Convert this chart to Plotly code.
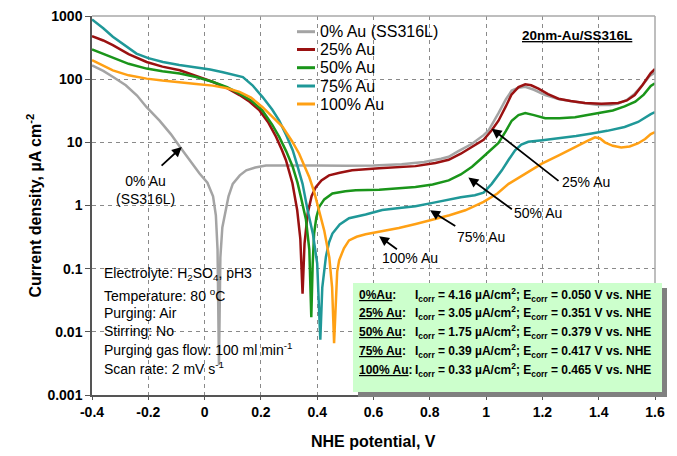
import plotly.graph_objects as go

# ---------------- data ----------------
names = ["0% Au (SS316L)", "25% Au", "50% Au", "75% Au", "100% Au"]
colors = ["#a4a4a4", "#9a1111", "#1a951a", "#1f9898", "#ffa014"]

v_0 = [-0.4, -0.36, -0.325, -0.28, -0.24, -0.206, -0.16, -0.12, -0.088, -0.05, -0.018,
       0.01, 0.03, 0.04, 0.046, 0.051, 0.056, 0.063, 0.071, 0.085, 0.1, 0.125, 0.148, 0.18,
       0.218, 0.3, 0.4, 0.5, 0.6, 0.7, 0.78, 0.84, 0.867, 0.9, 0.95, 0.991, 1.009, 1.044,
       1.07, 1.091, 1.115, 1.139, 1.17, 1.21, 1.26, 1.316, 1.36, 1.398, 1.44, 1.469,
       1.5, 1.528, 1.555, 1.581, 1.6]
i_0 = [165, 135, 108, 80, 55, 36, 22, 13.5, 8.5, 5, 3.2,
       2.3, 1.4, 0.7, 0.2, 0.003, 0.15, 0.45, 0.66, 1.4, 2.2, 3.0, 3.6, 4.0,
       4.3, 4.35, 4.3, 4.25, 4.3, 4.5, 4.9, 5.5, 5.9, 7.2, 9.5, 13, 15.5, 29,
       48, 66, 73, 76, 68, 56, 48, 44, 41, 39, 39, 41,
       47, 59, 80, 112, 128]

v_25 = [-0.4, -0.36, -0.326, -0.27, -0.206, -0.15, -0.088, -0.03, 0.028, 0.08, 0.124, 0.16,
        0.195, 0.225, 0.254, 0.275, 0.289, 0.312, 0.329, 0.34, 0.348, 0.355, 0.366, 0.38,
        0.395, 0.415, 0.442, 0.48, 0.524, 0.62, 0.749, 0.82, 0.867, 0.91, 0.949, 0.991,
        1.02, 1.044, 1.07, 1.09, 1.115, 1.139, 1.16, 1.186, 1.22, 1.257, 1.3, 1.351, 1.41,
        1.469, 1.5, 1.528, 1.555, 1.585, 1.6]
i_25 = [480, 410, 345, 250, 187, 158, 138, 112, 91, 72, 56, 44,
        32, 21, 12.2, 7.5, 5.2, 2.25, 0.84, 0.3, 0.04, 0.25, 0.74, 1.4,
        1.95, 2.5, 3.0, 3.3, 3.6, 3.9, 4.2, 4.7, 5.3, 6.6, 8.5, 11,
        15.5, 22, 37, 57, 75, 83, 80, 71, 58, 49, 45, 42, 41,
        42, 46, 56, 80, 125, 145]

v_50 = [-0.4, -0.36, -0.326, -0.27, -0.206, -0.15, -0.088, -0.03, 0.028, 0.08, 0.124, 0.165,
        0.205, 0.24, 0.265, 0.29, 0.313, 0.33, 0.342, 0.36, 0.372, 0.379, 0.384, 0.389,
        0.397, 0.407, 0.425, 0.454, 0.5, 0.537, 0.62, 0.7, 0.749, 0.81, 0.867, 0.91, 0.95,
        0.98, 1.009, 1.044, 1.07, 1.091, 1.115, 1.139, 1.17, 1.21, 1.26, 1.316, 1.36, 1.398,
        1.45, 1.492, 1.53, 1.56, 1.585, 1.6]
i_50 = [295, 250, 215, 175, 147, 133, 123, 108, 91, 75, 59, 46,
        32, 19, 12.2, 7.2, 4.1, 2.3, 1.37, 0.6, 0.2, 0.017, 0.12, 0.36,
        0.65, 0.95, 1.25, 1.55, 1.68, 1.74, 1.78, 1.88, 1.96, 2.15, 2.5, 3.1, 4.1,
        5.4, 7.0, 9.8, 15, 22, 27, 29, 27, 24, 24, 25, 27, 29,
        32, 37, 44, 57, 78, 86]

v_75 = [-0.4, -0.36, -0.326, -0.28, -0.242, -0.2, -0.148, -0.09, -0.029, 0.02, 0.065, 0.1,
        0.136, 0.17, 0.206, 0.24, 0.265, 0.29, 0.313, 0.33, 0.348, 0.366, 0.385, 0.4, 0.411,
        0.418, 0.431, 0.442, 0.454, 0.48, 0.513, 0.572, 0.631, 0.7, 0.749, 0.81, 0.867,
        0.91, 0.96, 0.991, 1.02, 1.056, 1.08, 1.103, 1.125, 1.15, 1.2, 1.257, 1.32, 1.375,
        1.43, 1.492, 1.54, 1.585, 1.6]
i_75 = [880, 640, 470, 330, 254, 215, 187, 168, 155, 142, 129, 118,
        108, 80, 52, 33, 22, 13, 7.5, 4.2, 2.2, 0.84, 0.35, 0.12, 0.0075,
        0.05, 0.155, 0.26, 0.36, 0.5, 0.63, 0.72, 0.85, 0.92, 0.97, 1.1, 1.25,
        1.35, 1.45, 1.6, 2.2, 3.6, 5.3, 7.5, 9.2, 10.2, 10.8, 11.5, 12.6, 13.8,
        15.2, 17.5, 21, 28, 30]

v_100 = [-0.4, -0.36, -0.326, -0.27, -0.206, -0.15, -0.088, -0.03, 0.029, 0.08, 0.124, 0.165,
         0.206, 0.24, 0.277, 0.31, 0.336, 0.355, 0.372, 0.39, 0.407, 0.425, 0.443, 0.453,
         0.46, 0.466, 0.471, 0.478, 0.495, 0.513, 0.54, 0.572, 0.63, 0.69, 0.75, 0.808,
         0.87, 0.926, 0.991, 1.04, 1.08, 1.14, 1.198, 1.26, 1.316, 1.36, 1.387, 1.405,
         1.422, 1.45, 1.48, 1.51, 1.539, 1.565, 1.585, 1.6]
i_100 = [200, 165, 138, 115, 102, 95, 90, 84, 79, 72, 63, 51,
         36, 26, 17.6, 10.5, 6.6, 4.2, 2.8, 1.6, 0.84, 0.4, 0.15, 0.05,
         0.0066, 0.04, 0.09, 0.136, 0.21, 0.28, 0.32, 0.35, 0.39, 0.44, 0.51, 0.59,
         0.7, 0.84, 1.14, 1.55, 2.2, 3.2, 4.6, 6.3, 8.5, 10.5, 12, 11.5,
         10, 8.8, 8.3, 8.6, 9.6, 11.3, 13.5, 14.5]

x_ticks = [-0.4, -0.2, 0, 0.2, 0.4, 0.6, 0.8, 1.0, 1.2, 1.4, 1.6]
x_ticktext = ["-0.4", "-0.2", "0", "0.2", "0.4", "0.6", "0.8", "1", "1.2", "1.4", "1.6"]
y_ticks = [0.001, 0.01, 0.1, 1, 10, 100, 1000]
y_ticktext = ["0.001", "0.01", "0.1", "1", "10", "100", "1000"]

conditions = [
    "Electrolyte: H<sub>2</sub>SO<sub>4</sub>, pH3",
    "Temperature: 80 <sup>o</sup>C",
    "Purging: Air",
    "Stirring: No",
    "Purging gas flow: 100 ml min<sup>-1</sup>",
    "Scan rate: 2 mV s<sup>-1</sup>",
]
box_labels = ["0%Au", "25% Au", "50% Au", "75% Au", "100% Au"]
icorr = ["4.16", "3.05", "1.75", "0.39", "0.33"]
ecorr = ["0.050", "0.351", "0.379", "0.417", "0.465"]

# arrow labels: text, head (V, log10 I)
arrow_text = ["0% Au<br>(SS316L)", "25% Au", "50% Au", "75% Au", "100% Au"]
arrow_head_v = [-0.081, 1.02, 0.937, 0.801, 0.62]
arrow_head_logi = [0.926, 1.217, 0.442, -0.076, -0.4875]

# ---------------- figure ----------------
FONT = "Liberation Sans, Arial, sans-serif"
L, R, T, B = 92, 22, 16, 61
W, H = 677, 456
PW, PH = W - L - R, H - T - B


def px(xp):
    return (xp - L) / PW


def py(yp):
    return (H - B - yp) / PH


fig = go.Figure()
series_v = [v_0, v_25, v_50, v_75, v_100]
series_i = [i_0, i_25, i_50, i_75, i_100]
for name, c, vv, ii in zip(names, colors, series_v, series_i):
    fig.add_trace(go.Scatter(x=vv, y=ii, mode="lines", name=name,
                             line=dict(color=c, width=2.5), showlegend=False))

shapes = []
annotations = []

# frame (top/right light grey)
shapes.append(dict(type="line", xref="paper", yref="paper", x0=0, x1=1, y0=1, y1=1,
                   line=dict(color="#a8a8a8", width=1.5)))
shapes.append(dict(type="line", xref="paper", yref="paper", x0=1, x1=1, y0=0, y1=1,
                   line=dict(color="#a8a8a8", width=1.5)))

# custom legend
leg_y = [31.7, 49.5, 67.7, 86, 104]
for name, c, yy in zip(names, colors, leg_y):
    shapes.append(dict(type="line", xref="paper", yref="paper",
                       x0=px(297), x1=px(315), y0=py(yy), y1=py(yy),
                       line=dict(color=c, width=3)))
    annotations.append(dict(xref="paper", yref="paper", x=px(318), y=py(yy),
                            xanchor="left", yanchor="middle", showarrow=False,
                            text=name, font=dict(size=16, color="black", family=FONT)))

# title tag
annotations.append(dict(xref="paper", yref="paper", x=px(576.5), y=py(36),
                        xanchor="center", yanchor="middle", showarrow=False,
                        text="<b><u>20nm-Au/SS316L</u></b>",
                        font=dict(size=13.5, color="black", family=FONT)))

# conditions text
cond_y = [274, 295, 312.5, 330.5, 349, 367.5]
for t, yy in zip(conditions, cond_y):
    annotations.append(dict(xref="paper", yref="paper", x=px(102), y=py(yy),
                            xanchor="left", yanchor="middle", showarrow=False,
                            text=t, font=dict(size=14, color="black", family=FONT)))

# green result box with shadow
shapes.append(dict(type="rect", xref="paper", yref="paper", layer="above",
                   x0=px(358), x1=px(667), y0=py(397), y1=py(288),
                   fillcolor="#808080", line=dict(width=0)))
shapes.append(dict(type="rect", xref="paper", yref="paper", layer="above",
                   x0=px(353), x1=px(662), y0=py(392), y1=py(283),
                   fillcolor="#ccffcc", line=dict(width=0)))
box_y = [295, 313, 332, 351, 370]
for lab, ic, ec, yy in zip(box_labels, icorr, ecorr, box_y):
    annotations.append(dict(xref="paper", yref="paper", x=px(357), y=py(yy),
                            xanchor="left", yanchor="middle", showarrow=False,
                            text="<b><u>" + lab + "</u>:</b>",
                            font=dict(size=12, color="black", family=FONT)))
    annotations.append(dict(xref="paper", yref="paper", x=px(413), y=py(yy),
                            xanchor="left", yanchor="middle", showarrow=False,
                            text="<b>I<sub>corr</sub> = " + ic + " \u00b5A/cm<sup>2</sup>; E<sub>corr</sub> = "
                                 + ec + " V vs. NHE</b>",
                            font=dict(size=12, color="black", family=FONT)))

# arrows + labels
arrow_tail = [(-21.7, 20), (68.3, 53.4), (45, 32.7), (26.7, 16.7), (19.3, 14)]
arrow_text_pos = [(145, 190), (586, 182), (538.3, 212.7), (481, 237), (410, 258.3)]
for t, hv, hl, (ax, ay), (tx, ty) in zip(arrow_text, arrow_head_v, arrow_head_logi,
                                         arrow_tail, arrow_text_pos):
    annotations.append(dict(x=hv, y=hl, xref="x", yref="y", ax=ax, ay=ay,
                            text="", showarrow=True, arrowhead=2, arrowsize=1.1,
                            arrowwidth=1.8, arrowcolor="black", standoff=0, startstandoff=0))
    annotations.append(dict(xref="paper", yref="paper", x=px(tx), y=py(ty),
                            xanchor="center", yanchor="middle", showarrow=False,
                            text=t, font=dict(size=14, color="black", family=FONT)))

# axis titles
annotations.append(dict(xref="paper", yref="paper", x=px(373.5), y=py(441),
                        xanchor="center", yanchor="middle", showarrow=False,
                        text="<b>NHE potential, V</b>",
                        font=dict(size=16, color="black", family=FONT)))
annotations.append(dict(xref="paper", yref="paper", x=px(34), y=py(205.5),
                        xanchor="center", yanchor="middle", showarrow=False, textangle=-90,
                        text="<b>Current density, \u00b5A cm<sup>-2</sup></b>",
                        font=dict(size=16, color="black", family=FONT)))

fig.update_layout(
    width=W, height=H,
    margin=dict(l=L, r=R, t=T, b=B, autoexpand=False),
    paper_bgcolor="white", plot_bgcolor="white",
    font=dict(family=FONT, color="black"),
    showlegend=False,
    shapes=shapes, annotations=annotations,
    xaxis=dict(range=[-0.4, 1.6], tickvals=x_ticks, ticktext=x_ticktext,
               showgrid=True, gridcolor="#8a8a8a", griddash="4px,4px", gridwidth=1,
               zeroline=False, showline=True, linecolor="#555555", linewidth=1.5,
               ticks="outside", ticklen=3, tickcolor="#555555",
               tickfont=dict(size=14, color="black", family=FONT, weight="bold")),
    yaxis=dict(type="log", range=[-3, 3], tickvals=y_ticks, ticktext=y_ticktext,
               showgrid=True, gridcolor="#8a8a8a", griddash="4px,4px", gridwidth=1,
               zeroline=False, showline=True, linecolor="#555555", linewidth=1.5,
               ticks="outside", ticklen=5, tickcolor="#555555",
               tickfont=dict(size=14, color="black", family=FONT, weight="bold")),
)

fig.write_html("out.html", config={"displayModeBar": False},
               post_script="document.body.style.margin='0px';document.body.style.padding='0px';")
